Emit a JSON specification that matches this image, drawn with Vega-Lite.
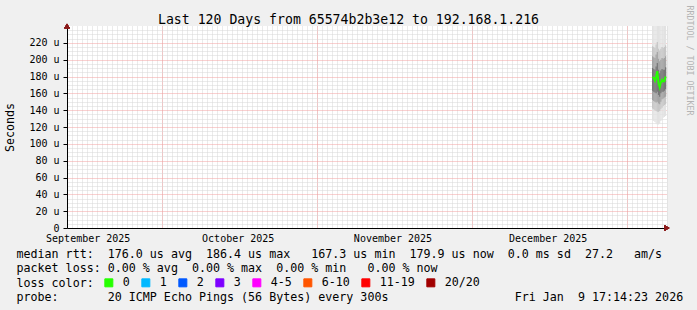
{
  "$schema": "https://vega.github.io/schema/vega-lite/v6.json",
  "width": 600,
  "height": 202,
  "autosize": {"type": "none"},
  "padding": {"left": 67, "top": 26, "right": 30, "bottom": 82},
  "background": "#f0f0f0",
  "config": {
    "view": {"fill": "#ffffff", "stroke": null},
    "font": "DejaVu Sans Mono",
    "axis": {"labelFont": "DejaVu Sans Mono", "titleFont": "DejaVu Sans Mono", "labelColor": "#000000", "titleColor": "#000000", "titleFontWeight": "normal", "labelFontWeight": "normal"}
  },
  "title": {"text": "Last 120 Days from 65574b2b3e12 to 192.168.1.216", "font": "DejaVu Sans Mono", "fontSize": 13.2, "fontWeight": "normal", "color": "#000000", "anchor": "middle", "frame": "group", "dx": -18.5, "dy": 35, "baseline": "alphabetic", "offset": 3},
  "data": {"values": [
    {"start": "2026-01-07T00:00:00", "end": "2026-01-07T05:40:00", "time": "2026-01-07T02:50:00", "min": 128, "p10": 142, "p25": 152, "p40": 163, "p60": 190, "p75": 204, "p90": 216, "max": 250, "median": 179.5, "loss": "0"},
    {"start": "2026-01-07T05:40:00", "end": "2026-01-07T11:20:00", "time": "2026-01-07T08:30:00", "min": 127, "p10": 141, "p25": 151, "p40": 162, "p60": 189, "p75": 203, "p90": 215, "max": 248, "median": 178, "loss": "0"},
    {"start": "2026-01-07T11:20:00", "end": "2026-01-07T17:00:00", "time": "2026-01-07T14:10:00", "min": 126, "p10": 140, "p25": 150, "p40": 161, "p60": 188, "p75": 202, "p90": 214, "max": 250, "median": 175, "loss": "0"},
    {"start": "2026-01-07T17:00:00", "end": "2026-01-07T22:40:00", "time": "2026-01-07T19:50:00", "min": 124, "p10": 139, "p25": 149, "p40": 160, "p60": 192, "p75": 206, "p90": 218, "max": 252, "median": 180, "loss": "0"},
    {"start": "2026-01-07T22:40:00", "end": "2026-01-08T04:20:00", "time": "2026-01-08T01:30:00", "min": 123, "p10": 138, "p25": 150, "p40": 162, "p60": 196, "p75": 209, "p90": 221, "max": 255, "median": 186.4, "loss": "0"},
    {"start": "2026-01-08T04:20:00", "end": "2026-01-08T10:00:00", "time": "2026-01-08T07:10:00", "min": 123, "p10": 138, "p25": 148, "p40": 158, "p60": 188, "p75": 201, "p90": 213, "max": 246, "median": 172, "loss": "0"},
    {"start": "2026-01-08T10:00:00", "end": "2026-01-08T15:40:00", "time": "2026-01-08T12:50:00", "min": 124, "p10": 139, "p25": 147, "p40": 156, "p60": 184, "p75": 198, "p90": 211, "max": 244, "median": 167.3, "loss": "0"},
    {"start": "2026-01-08T15:40:00", "end": "2026-01-08T21:20:00", "time": "2026-01-08T18:30:00", "min": 127, "p10": 141, "p25": 150, "p40": 160, "p60": 187, "p75": 200, "p90": 213, "max": 246, "median": 173, "loss": "0"},
    {"start": "2026-01-08T21:20:00", "end": "2026-01-09T03:00:00", "time": "2026-01-09T00:10:00", "min": 129, "p10": 143, "p25": 153, "p40": 162, "p60": 189, "p75": 202, "p90": 215, "max": 248, "median": 176, "loss": "0"},
    {"start": "2026-01-09T03:00:00", "end": "2026-01-09T08:40:00", "time": "2026-01-09T05:50:00", "min": 131, "p10": 145, "p25": 154, "p40": 162, "p60": 188, "p75": 201, "p90": 214, "max": 246, "median": 174, "loss": "0"},
    {"start": "2026-01-09T08:40:00", "end": "2026-01-09T14:20:00", "time": "2026-01-09T11:30:00", "min": 132, "p10": 146, "p25": 155, "p40": 163, "p60": 188, "p75": 202, "p90": 215, "max": 247, "median": 174.5, "loss": "0"},
    {"start": "2026-01-09T14:20:00", "end": "2026-01-09T20:00:00", "time": "2026-01-09T17:10:00", "min": 133, "p10": 147, "p25": 156, "p40": 165, "p60": 191, "p75": 204, "p90": 217, "max": 250, "median": 179.9, "loss": "0"}
  ]},
  "layer": [
    {
      "mark": {"type": "rect", "color": "#e2e2e2", "clip": true},
      "encoding": {
        "x": {"field": "start", "type": "temporal",
          "scale": {"domain": [{"year": 2025, "month": 9, "date": 12, "hours": 0, "minutes": 0}, {"year": 2026, "month": 1, "date": 10, "hours": 0, "minutes": 0}]},
          "axis": {"orient": "bottom", "grid": true, "gridColor": "#d6d6d6", "gridDash": [1, 1], "gridWidth": 1, "tickCount": {"interval": "day", "step": 1}, "labels": false, "ticks": false, "domain": false, "title": null}},
        "x2": {"field": "end"},
        "y": {"field": "min", "type": "quantitative",
          "scale": {"domain": [0, 240], "nice": false, "zero": true},
          "axis": {"orient": "left", "grid": true, "gridColor": "#d6d6d6", "gridDash": [1, 1], "gridWidth": 1, "values": [5, 10, 15, 25, 30, 35, 45, 50, 55, 65, 70, 75, 85, 90, 95, 105, 110, 115, 125, 130, 135, 145, 150, 155, 165, 170, 175, 185, 190, 195, 205, 210, 215, 225, 230, 235], "labels": false, "ticks": false, "domain": false, "title": null}},
        "y2": {"field": "max"}
      }
    },
    {
      "mark": {"type": "rect", "color": "#c6c6c6", "clip": true},
      "encoding": {
        "x": {"field": "start", "type": "temporal",
          "axis": {"orient": "bottom", "grid": true, "gridColor": "#f2a0a0", "gridDash": [1, 1], "gridWidth": 1, "values": [{"year": 2025, "month": 10, "date": 1}, {"year": 2025, "month": 11, "date": 1}, {"year": 2025, "month": 12, "date": 2}, {"year": 2026, "month": 1, "date": 2}], "labels": false, "ticks": false, "domain": false, "title": null}},
        "x2": {"field": "end"},
        "y": {"field": "p10", "type": "quantitative",
          "axis": {"orient": "left", "grid": true, "gridColor": "#f2a0a0", "gridDash": [1, 1], "gridWidth": 1, "values": [0, 20, 40, 60, 80, 100, 120, 140, 160, 180, 200, 220], "labelExpr": "datum.value == 0 ? '0' : datum.value + ' u'", "labelFontSize": 10, "labelPadding": 4, "ticks": true, "tickSize": 4, "tickColor": "#000000", "domain": true, "domainColor": "#000000", "title": "Seconds", "titleFontSize": 11.66, "titleX": -57, "titleBaseline": "middle"}},
        "y2": {"field": "p90"}
      }
    },
    {
      "mark": {"type": "rect", "color": "#a3a3a3", "clip": true},
      "encoding": {
        "x": {"field": "start", "type": "temporal",
          "axis": {"orient": "bottom", "grid": false, "values": [{"year": 2025, "month": 9, "date": 16, "hours": 3, "minutes": 22}, {"year": 2025, "month": 10, "date": 16, "hours": 3, "minutes": 22}, {"year": 2025, "month": 11, "date": 16, "hours": 2, "minutes": 24}, {"year": 2025, "month": 12, "date": 17, "hours": 3, "minutes": 22}], "format": "%B %Y", "labelFontSize": 10, "labelPadding": 5, "labelOverlap": false, "labelFlush": false, "ticks": false, "domain": true, "domainColor": "#000000",
            "title": ["median rtt:\u00a0\u00a0176.0 us avg\u00a0\u00a0186.4 us max\u00a0\u00a0\u00a0167.3 us min\u00a0\u00a0179.9 us now\u00a0\u00a00.0 ms sd\u00a0\u00a027.2\u00a0\u00a0\u00a0am/s", "packet loss: 0.00 % avg\u00a0\u00a00.00 % max\u00a0\u00a00.00 % min\u00a0\u00a0\u00a00.00 % now"],
            "titleX": -51, "titleY": 29, "titleAlign": "left", "titleAnchor": "start", "titleBaseline": "alphabetic", "titleAngle": 0, "titleFontSize": 11.66, "titleLineHeight": 14, "titleLimit": 2000}},
        "x2": {"field": "end"},
        "y": {"field": "p25", "type": "quantitative",
          "axis": {"orient": "right", "grid": false, "labels": false, "ticks": false, "domain": false, "values": [], "title": "RRDTOOL / TOBI OETIKER", "titleAngle": 90, "titleX": 21, "titleY": -21, "titleAlign": "left", "titleBaseline": "middle", "titleFontSize": 8.3, "titleColor": "#b4b4b4"}},
        "y2": {"field": "p75"}
      }
    },
    {
      "mark": {"type": "rect", "color": "#767676", "clip": true},
      "encoding": {
        "x": {"field": "start", "type": "temporal",
          "axis": {"orient": "bottom", "grid": false, "labels": false, "ticks": false, "domain": false, "values": [],
            "title": "probe:\u00a0\u00a0\u00a0\u00a0\u00a0\u00a0\u00a020 ICMP Echo Pings (56 Bytes) every 300s\u00a0\u00a0\u00a0\u00a0\u00a0\u00a0\u00a0\u00a0\u00a0\u00a0\u00a0\u00a0\u00a0\u00a0\u00a0\u00a0\u00a0\u00a0Fri Jan\u00a0\u00a09 17:14:23 2026",
            "titleX": -51, "titleY": 72, "titleAlign": "left", "titleAnchor": "start", "titleBaseline": "alphabetic", "titleAngle": 0, "titleFontSize": 11.66, "titleLimit": 2000}},
        "x2": {"field": "end"},
        "y": {"field": "p40", "type": "quantitative", "axis": null},
        "y2": {"field": "p60"}
      }
    },
    {
      "mark": {"type": "line", "strokeWidth": 2, "clip": true},
      "encoding": {
        "x": {"field": "time", "type": "temporal",
          "axis": {"orient": "bottom", "grid": false, "labels": false, "ticks": false, "domain": false, "values": [],
            "title": "loss color:", "titleX": -51, "titleY": 58, "titleAlign": "left", "titleAnchor": "start", "titleBaseline": "alphabetic", "titleAngle": 0, "titleFontSize": 11.66, "titleLimit": 2000}},
        "y": {"field": "median", "type": "quantitative", "axis": null},
        "color": {"field": "loss", "type": "nominal",
          "scale": {"domain": ["0", "1", "2", "3", "4-5", "6-10", "11-19", "20/20"], "range": ["#26ff00", "#00b8ff", "#0059ff", "#7e00ff", "#ff00ff", "#ff5500", "#ff0000", "#a10000"]},
          "legend": {"orient": "none", "legendX": 36, "legendY": 251, "direction": "horizontal", "columns": 8, "title": null, "symbolType": "square", "symbolSize": 64, "symbolStrokeWidth": 1, "labelFont": "DejaVu Sans Mono", "labelFontSize": 11.66, "labelColor": "#000000", "labelOffset": 8, "columnPadding": 9, "gridAlign": "none", "padding": 0,
            "encode": {"symbols": {"update": {"fill": {"scale": "color", "field": "value"}, "stroke": {"value": "#000000"}, "strokeWidth": {"value": 1}, "opacity": {"value": 1}, "fillOpacity": {"value": 1}}}}}}
      }
    },
    {
      "mark": {"type": "point", "shape": "triangle-up", "filled": true, "color": "#8b1a1a", "opacity": 1, "size": 30, "dy": -3},
      "encoding": {
        "x": {"datum": {"year": 2025, "month": 9, "date": 12, "hours": 0, "minutes": 0}, "type": "temporal", "axis": null},
        "y": {"datum": 240, "type": "quantitative", "axis": null}
      }
    },
    {
      "mark": {"type": "point", "shape": "triangle-right", "filled": true, "color": "#8b1a1a", "opacity": 1, "size": 30, "dx": 4},
      "encoding": {
        "x": {"datum": {"year": 2026, "month": 1, "date": 10, "hours": 0, "minutes": 0}, "type": "temporal", "axis": null},
        "y": {"datum": 0, "type": "quantitative", "axis": null}
      }
    }
  ],
  "resolve": {"axis": {"x": "independent", "y": "independent"}}
}
